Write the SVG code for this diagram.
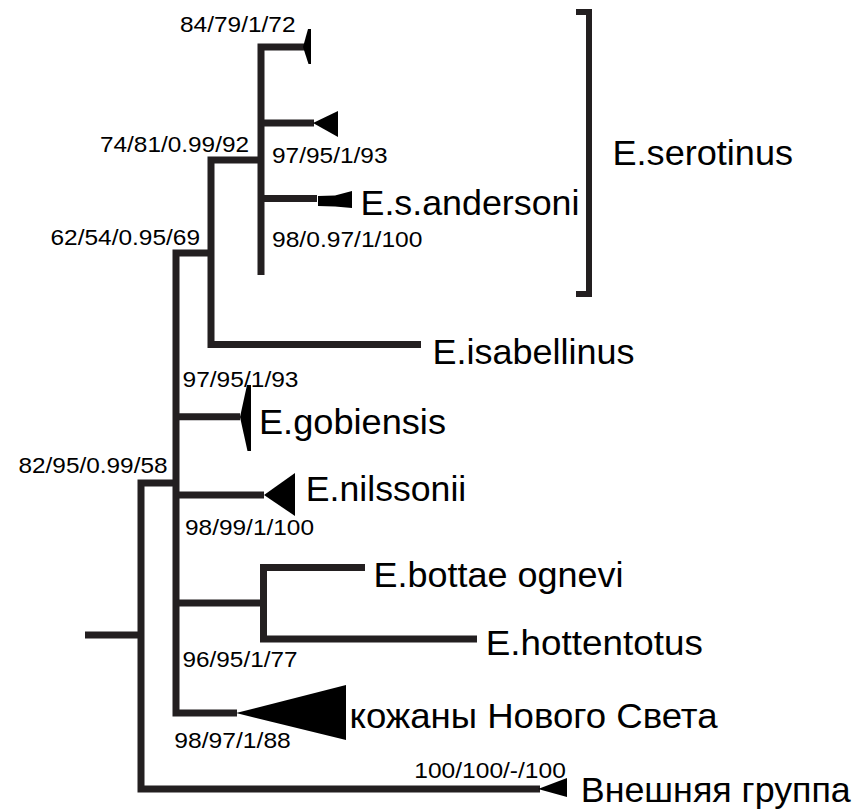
<svg xmlns="http://www.w3.org/2000/svg" width="856" height="812" viewBox="0 0 856 812">
  <style>
    .br { fill: none; stroke: #231f20; stroke-width: 7; stroke-linejoin: miter; stroke-linecap: butt; }
    .clade { fill: #000000; stroke: none; }
    .taxon { font-family: "Liberation Sans", Arial, sans-serif; font-size: 35px; fill: #000000; }
    .sup { font-family: "Liberation Sans", Arial, sans-serif; font-size: 22px; fill: #000000; }
  </style>
  <rect width="856" height="812" fill="#ffffff"/>

  <!-- branches of the tree -->
  <g id="connectors">
    <path class="br" d="M85,635 H141"/>
    <path class="br" d="M176,483 H141 V789 H540"/>
    <path class="br" d="M211,253 H176 V713 H237"/>
    <path class="br" d="M176,416.7 H240"/>
    <path class="br" d="M176,495 H264"/>
    <path class="br" d="M176,603 H263.5"/>
    <path class="br" d="M365,567.5 H263.5 V639 H477"/>
    <path class="br" d="M261,160 H211 V344.5 H421"/>
    <path class="br" d="M305,47 H261 V275"/>
    <path class="br" d="M261,123 H314"/>
    <path class="br" d="M261,198.5 H317"/>
  </g>

  <!-- E. serotinus group bracket -->
  <g id="serotinus-bracket">
    <path d="M576,12 H589 V294 H576" fill="none" stroke="#231f20" stroke-width="6"/>
    <text class="taxon" x="612.5" y="165" textLength="180.5" lengthAdjust="spacingAndGlyphs">E.serotinus</text>
  </g>

  <!-- terminal clades -->
  <g id="serotinus-a">
    <polygon class="clade" points="308,29 311,29 311,64 308.5,64 303,47"/>
  </g>
  <g id="serotinus-b">
    <polygon class="clade" points="313,123 338,111 338,137"/>
  </g>
  <g id="andersoni">
    <polygon class="clade" points="318,196 335,195.5 352,191 352,208 335,206.5 318,206"/>
    <text class="taxon" x="360.5" y="215" textLength="219" lengthAdjust="spacingAndGlyphs">E.s.andersoni</text>
  </g>
  <g id="isabellinus">
    <text class="taxon" x="432.5" y="364" textLength="202" lengthAdjust="spacingAndGlyphs">E.isabellinus</text>
  </g>
  <g id="gobiensis">
    <polygon class="clade" points="247,385 251,385 251,451 247.5,451 240,417"/>
    <text class="taxon" x="259" y="434.3" textLength="187" lengthAdjust="spacingAndGlyphs">E.gobiensis</text>
  </g>
  <g id="nilssonii">
    <polygon class="clade" points="264,495 295,473 295,516"/>
    <text class="taxon" x="305.8" y="501" textLength="160.5" lengthAdjust="spacingAndGlyphs">E.nilssonii</text>
  </g>
  <g id="bottae">
    <text class="taxon" x="373.5" y="586.7" textLength="250" lengthAdjust="spacingAndGlyphs">E.bottae ognevi</text>
  </g>
  <g id="hottentotus">
    <text class="taxon" x="485.8" y="655" textLength="217" lengthAdjust="spacingAndGlyphs">E.hottentotus</text>
  </g>
  <g id="new-world">
    <polygon class="clade" points="236,713 346,685 346,740"/>
    <text class="taxon" x="349.5" y="728.3" textLength="368" lengthAdjust="spacingAndGlyphs">кожаны Нового Света</text>
  </g>
  <g id="outgroup">
    <polygon class="clade" points="538,789 567,778 567,797"/>
    <text class="taxon" x="580.8" y="802" textLength="270" lengthAdjust="spacingAndGlyphs">Внешняя группа</text>
  </g>

  <!-- support values at internal nodes -->
  <g id="support-labels">
    <text class="sup" x="180" y="32.3" textLength="115.5" lengthAdjust="spacingAndGlyphs">84/79/1/72</text>
    <text class="sup" x="100" y="151.7" textLength="149" lengthAdjust="spacingAndGlyphs">74/81/0.99/92</text>
    <text class="sup" x="272" y="163.3" textLength="115.5" lengthAdjust="spacingAndGlyphs">97/95/1/93</text>
    <text class="sup" x="50.5" y="245" textLength="149.5" lengthAdjust="spacingAndGlyphs">62/54/0.95/69</text>
    <text class="sup" x="272" y="246.7" textLength="150.5" lengthAdjust="spacingAndGlyphs">98/0.97/1/100</text>
    <text class="sup" x="182.5" y="386.7" textLength="116" lengthAdjust="spacingAndGlyphs">97/95/1/93</text>
    <text class="sup" x="18.5" y="472.7" textLength="149" lengthAdjust="spacingAndGlyphs">82/95/0.99/58</text>
    <text class="sup" x="185" y="535" textLength="129" lengthAdjust="spacingAndGlyphs">98/99/1/100</text>
    <text class="sup" x="182.5" y="666.7" textLength="115" lengthAdjust="spacingAndGlyphs">96/95/1/77</text>
    <text class="sup" x="174.3" y="748.3" textLength="116.5" lengthAdjust="spacingAndGlyphs">98/97/1/88</text>
    <text class="sup" x="414.3" y="778.3" textLength="151.5" lengthAdjust="spacingAndGlyphs">100/100/-/100</text>
  </g>
</svg>
